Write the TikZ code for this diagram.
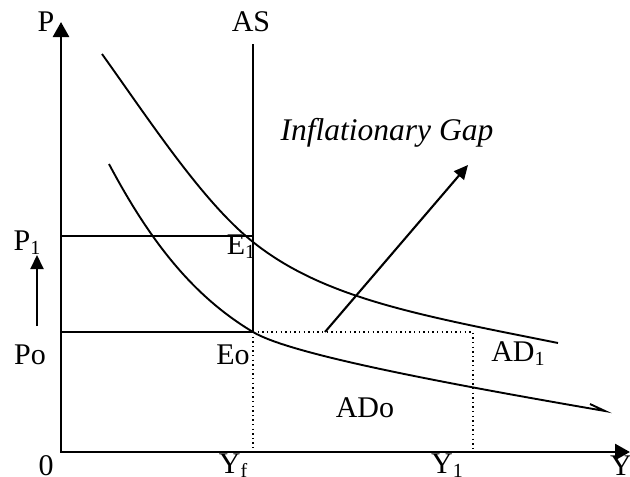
\documentclass[tikz,border=0pt]{standalone}
\usepackage{fontspec}
\setmainfont{Liberation Serif}
\usetikzlibrary{arrows.meta}
\newcommand{\lowsub}[1]{\raisebox{-4pt}{\fontsize{20}{22}\selectfont #1}}
\tikzset{
  axis/.style     = {line width=2.6pt,
                     {Triangle[length=15pt,width=16pt]}-{Triangle[length=15pt,width=16pt]}},
  curve/.style    = {line width=1.9pt},
  guide/.style    = {line width=1.6pt},
  gapline/.style  = {line width=1.5pt, dash pattern=on 1.4pt off 3.2pt},
  shiftarr/.style = {line width=2.1pt, -{Triangle[length=14pt,width=13pt]}},
  lbl/.style      = {font=\fontsize{30}{34}\selectfont, inner sep=0pt},
}

\begin{document}
\begin{tikzpicture}[x=1pt,y=-1pt]
  \useasboundingbox (0,0) rectangle (630,477);
  % axes and the fixed points of the diagram
  \coordinate (O) at (61,452);
  \coordinate (ptop) at (61,22);
  \coordinate (yend) at (630,452);
  \coordinate (astop) at (253,44);
  \coordinate (e1) at (253,236);
  \coordinate (eo) at (253,332);
  \coordinate (p1) at (61,236);
  \coordinate (po) at (61,332);
  \coordinate (yf) at (253,452);
  \coordinate (y1) at (473,452);
  \coordinate (g1) at (473,332);
  \coordinate (gapfoot) at (325,332);
  \coordinate (gaptip) at (468,165);
  \coordinate (movefoot) at (37,326);
  \coordinate (movetip) at (37,255);

  \draw[axis] (ptop) -- (O) -- (yend);
  \draw[guide, line width=1.4pt] (astop) -- (eo);
  \draw[guide] (p1) -- (e1);
  \draw[guide] (po) -- (eo);
  \draw[gapline] (eo) -- (yf);
  \draw[gapline] (eo) -- (g1) -- (y1);

  % demand curves
  \draw[curve] (102,54) .. controls (152,124) and (203,202) .. (253,242)
                        .. controls (323,298) and (418,315) .. (558,343);
  \draw[curve] (109,164) .. controls (154,249) and (198,299) .. (eo)
                         .. controls (288,353) and (425,380) .. (605,411) -- (590,404);

  \draw[shiftarr] (gapfoot) -- (gaptip);
  \draw[shiftarr] (movefoot) -- (movetip);

  % labels
  \node[lbl] (lp)   at (46,22)   {P};
  \node[lbl] (las)  at (251,22)  {AS};
  \node[lbl, font=\fontsize{31.5}{34}\selectfont\itshape] (lgap) at (387,133) {Inflationary Gap};
  \node[lbl] (lp1)  at (27,243)  {P\lowsub{1}};
  \node[lbl] (le1)  at (241,247) {E\lowsub{1}};
  \node[lbl] (lpo)  at (30,355)  {Po};
  \node[lbl] (leo)  at (233,355) {Eo};
  \node[lbl] (lad1) at (518,354) {AD\lowsub{1}};
  \node[lbl] (lado) at (365,408) {ADo};
  \node[lbl] (l0)   at (46,466)  {0};
  \node[lbl] (lyf)  at (233,466) {Y\lowsub{f}};
  \node[lbl] (ly1)  at (447,466) {Y\lowsub{1}};
  \node[lbl] (ly)   at (621,466) {Y};
\end{tikzpicture}
\end{document}
